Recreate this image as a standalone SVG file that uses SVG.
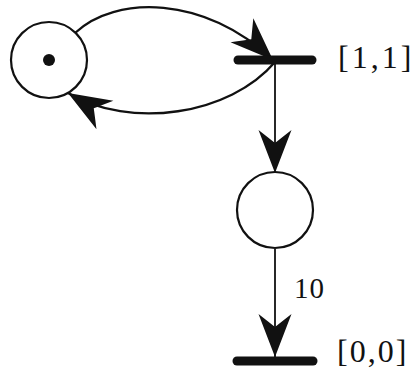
<svg xmlns="http://www.w3.org/2000/svg" width="416" height="383" viewBox="0 0 416 383">
  <style>
    .place { fill: #fff; stroke: #111; stroke-width: 2.2; }
    .bar { stroke: #111; stroke-width: 9; stroke-linecap: round; }
    .arc { fill: none; stroke: #111; stroke-width: 2.3; }
    .edge { fill: none; stroke: #111; stroke-width: 1.8; }
    .label { font-family: "Liberation Serif", "Times New Roman", serif; fill: #111; }
  </style>
  <defs>
    <marker id="head" markerUnits="userSpaceOnUse" markerWidth="52" markerHeight="44" viewBox="-48 -22 52 44" refX="0" refY="0" orient="auto">
      <path d="M0,0 L-43,-16.5 Q-34,-5 -30,0 Q-34,5 -43,16.5 Z" fill="#111"/>
    </marker>
  </defs>
  <rect width="416" height="383" fill="#fff"/>

  <g id="connectors">
    <path class="arc" d="M75,33 C115,-5 205,-5 273,60" marker-end="url(#head)"/>
    <path class="arc" d="M275,62 C230,115 130,130 68,93" marker-end="url(#head)"/>
    <path class="edge" d="M275,60 L275,173" marker-end="url(#head)"/>
    <path class="edge" d="M275,249 L275,357" marker-end="url(#head)"/>
    <text class="label" x="294" y="298" font-size="29" letter-spacing="1">10</text>
  </g>

  <g id="p1">
    <circle class="place" cx="49" cy="60" r="38"/>
    <circle cx="49" cy="60" r="6" fill="#111"/>
  </g>

  <g id="t1">
    <line class="bar" x1="238" y1="60" x2="312" y2="60"/>
    <text class="label" x="338" y="68" font-size="32" letter-spacing="3">[1,1]</text>
  </g>

  <g id="p2">
    <circle class="place" cx="275" cy="210" r="38"/>
  </g>

  <g id="t2">
    <line class="bar" x1="237" y1="361" x2="313" y2="361"/>
    <text class="label" x="337" y="362" font-size="32" letter-spacing="2">[0,0]</text>
  </g>
</svg>
